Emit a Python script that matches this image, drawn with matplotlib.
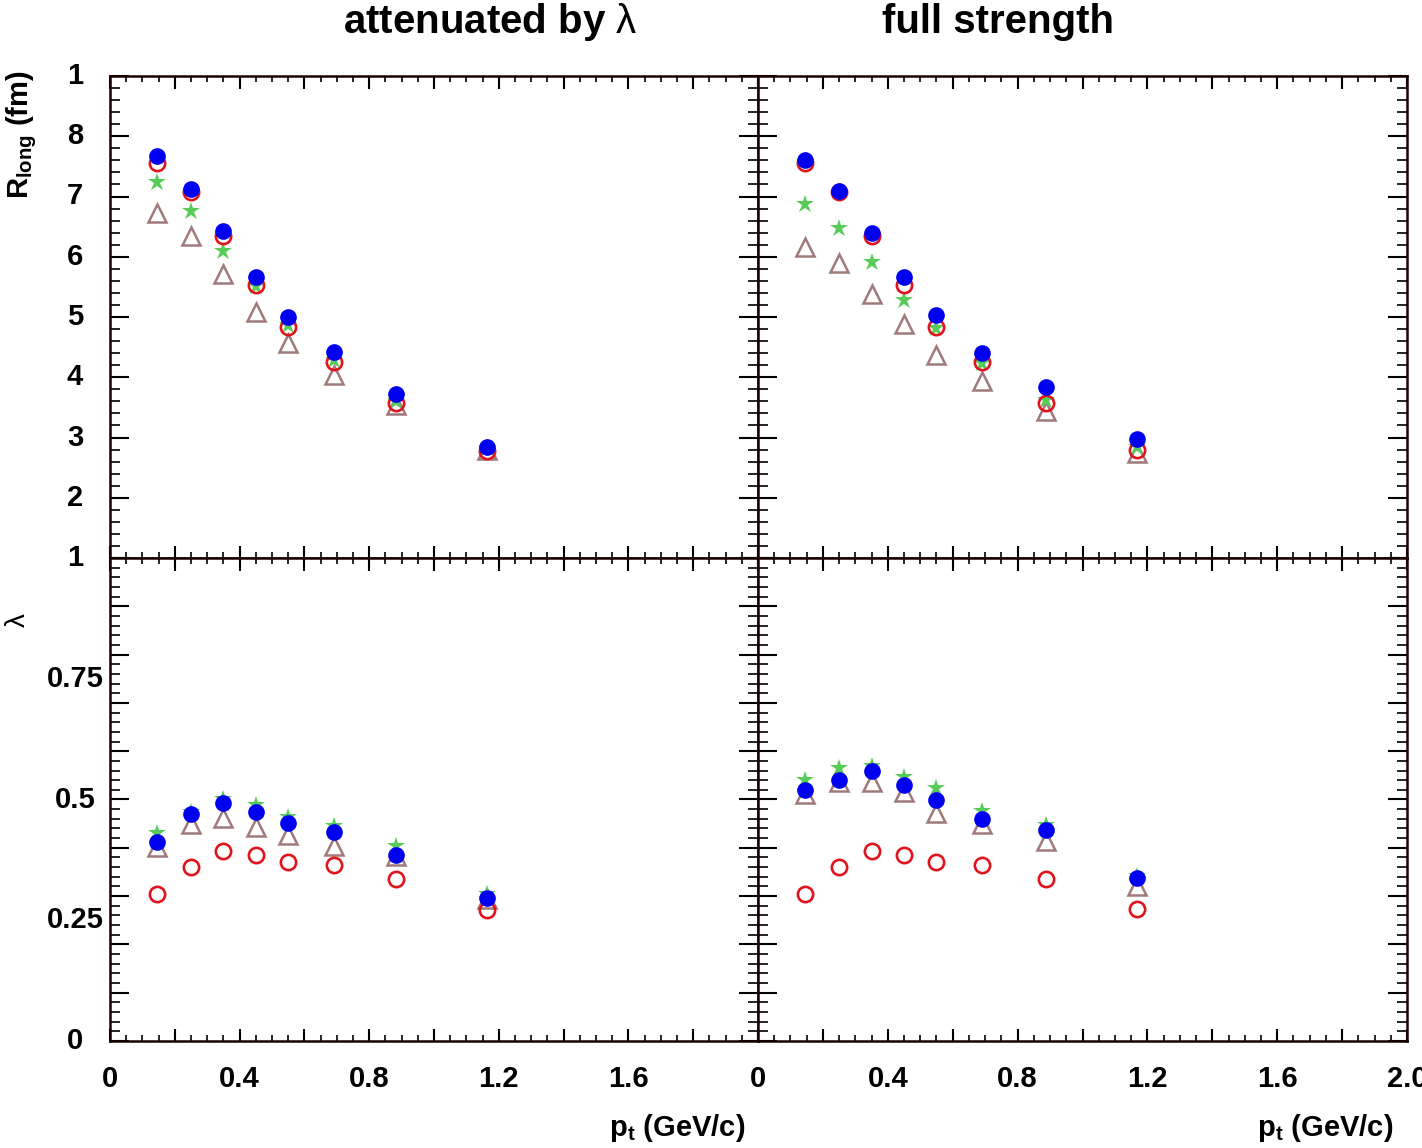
import matplotlib
matplotlib.use("Agg")
import matplotlib.pyplot as plt
from matplotlib.ticker import MultipleLocator
from matplotlib.transforms import blended_transform_factory

plt.rcParams['font.family'] = ['Liberation Sans', 'DejaVu Sans']
plt.rcParams['mathtext.fontset'] = 'custom'
plt.rcParams['mathtext.rm'] = 'Liberation Sans'
plt.rcParams['mathtext.bf'] = 'Liberation Sans:bold'
plt.rcParams['mathtext.it'] = 'Liberation Sans:italic'

# ---------------- data ----------------
pt_left = [0.145, 0.25, 0.35, 0.45, 0.55, 0.69, 0.883, 1.164]
pt_right = [0.145, 0.25, 0.35, 0.45, 0.55, 0.69, 0.886, 1.168]

# R_long (fm), attenuated by lambda
rl_att_blue = [7.68, 7.13, 6.42, 5.67, 5.00, 4.42, 3.73, 2.85]
rl_att_red = [7.56, 7.08, 6.35, 5.53, 4.83, 4.26, 3.57, 2.78]
rl_att_green = [7.24, 6.76, 6.09, 5.51, 4.87, 4.29, 3.60, 2.83]
rl_att_tri = [6.73, 6.34, 5.72, 5.09, 4.57, 4.04, 3.54, 2.80]

# R_long (fm), full strength
rl_full_blue = [7.60, 7.09, 6.39, 5.67, 5.03, 4.40, 3.83, 2.97]
rl_full_red = [7.56, 7.08, 6.34, 5.53, 4.83, 4.25, 3.58, 2.80]
rl_full_green = [6.88, 6.48, 5.91, 5.29, 4.82, 4.24, 3.63, 2.85]
rl_full_tri = [6.16, 5.90, 5.39, 4.89, 4.37, 3.93, 3.44, 2.74]

# lambda, attenuated
lam_att_blue = [0.413, 0.470, 0.492, 0.474, 0.451, 0.432, 0.386, 0.297]
lam_att_red = [0.305, 0.360, 0.394, 0.385, 0.371, 0.365, 0.335, 0.272]
lam_att_green = [0.430, 0.475, 0.501, 0.489, 0.464, 0.446, 0.403, 0.304]
lam_att_tri = [0.401, 0.449, 0.461, 0.444, 0.426, 0.404, 0.383, 0.293]

# lambda, full strength
lam_full_blue = [0.520, 0.541, 0.560, 0.530, 0.500, 0.459, 0.437, 0.338]
lam_full_red = [0.305, 0.360, 0.394, 0.385, 0.371, 0.365, 0.335, 0.274]
lam_full_green = [0.541, 0.565, 0.569, 0.546, 0.523, 0.477, 0.447, 0.342]
lam_full_tri = [0.511, 0.536, 0.536, 0.515, 0.473, 0.449, 0.414, 0.321]

titles = [r"attenuated by $\mathrm{\lambda}$", "full strength"]
x_ticklabels_left = ['0', '', '0.4', '', '0.8', '', '1.2', '', '1.6', '', '']
x_ticklabels_right = ['0', '', '0.4', '', '0.8', '', '1.2', '', '1.6', '', '2.0']
r_labels = ['2', '3', '4', '5', '6', '7', '8', '1']
r_label_vals = [2, 3, 4, 5, 6, 7, 8, 9]
lam_labels = ['0', '0.25', '0.5', '0.75', '1']
lam_label_vals = [0, 0.25, 0.5, 0.75, 1.0]

# ---------------- figure ----------------
W, H = 1422, 1148
fig = plt.figure(figsize=(W / 100, H / 100), dpi=100)

def fx(px):
    return px / W

def fy(py):
    return 1 - py / H

x0, xm, x1 = 110, 758, 1407
y0, ym, y1 = 76, 558, 1041

axes = {}
axes['tl'] = fig.add_axes([fx(x0), fy(ym), fx(xm) - fx(x0), fy(y0) - fy(ym)])
axes['tr'] = fig.add_axes([fx(xm), fy(ym), fx(x1) - fx(xm), fy(y0) - fy(ym)])
axes['bl'] = fig.add_axes([fx(x0), fy(y1), fx(xm) - fx(x0), fy(ym) - fy(y1)])
axes['br'] = fig.add_axes([fx(xm), fy(y1), fx(x1) - fx(xm), fy(ym) - fy(y1)])

c_blue = '#0000f0'
c_red = '#e0141c'
c_green = '#58cc58'
c_tri = '#a07a7a'

def draw(ax, x, tri, green, red, blue):
    ax.plot(x, tri, linestyle='none', marker='^', markersize=13, markerfacecolor='none',
            markeredgecolor=c_tri, markeredgewidth=1.8, zorder=3)
    ax.plot(x, green, linestyle='none', marker='*', markersize=13.5, color=c_green,
            markeredgewidth=0, zorder=4)
    ax.plot(x, red, linestyle='none', marker='o', markersize=11, markerfacecolor='none',
            markeredgecolor=c_red, markeredgewidth=1.9, zorder=5)
    ax.plot(x, blue, linestyle='none', marker='o', markersize=12, color=c_blue,
            markeredgewidth=0, zorder=6)

draw(axes['tl'], pt_left, rl_att_tri, rl_att_green, rl_att_red, rl_att_blue)
draw(axes['tr'], pt_right, rl_full_tri, rl_full_green, rl_full_red, rl_full_blue)
draw(axes['bl'], pt_left, lam_att_tri, lam_att_green, lam_att_red, lam_att_blue)
draw(axes['br'], pt_right, lam_full_tri, lam_full_green, lam_full_red, lam_full_blue)

for key, ax in axes.items():
    ax.set_xlim(0, 2.0)
    ax.xaxis.set_major_locator(MultipleLocator(0.2))
    ax.xaxis.set_minor_locator(MultipleLocator(0.05))
    ax.tick_params(axis='x', which='major', direction='in', length=9, width=1.5,
                   top=True, bottom=True, labelsize=21, pad=17)
    ax.tick_params(axis='x', which='minor', direction='in', length=4.5, width=1.2,
                   top=True, bottom=True)
    ax.tick_params(axis='y', which='major', direction='in', length=13.5, width=1.5,
                   left=True, right=True, labelleft=False)
    ax.tick_params(axis='y', which='minor', direction='in', length=7, width=1.2,
                   left=True, right=True)
    for s in ax.spines.values():
        s.set_linewidth(1.8)
        s.set_color('#1a0000')
    if key in ('tl', 'tr'):
        ax.set_ylim(1, 9)
        ax.yaxis.set_major_locator(MultipleLocator(1))
        ax.yaxis.set_minor_locator(MultipleLocator(0.2))
        ax.tick_params(axis='x', labelbottom=False)
    else:
        ax.set_ylim(0, 1)
        ax.yaxis.set_major_locator(MultipleLocator(0.1))
        ax.yaxis.set_minor_locator(MultipleLocator(0.02))

ticks_x = [round(0.2 * i, 1) for i in range(11)]
axes['bl'].set_xticks(ticks_x, x_ticklabels_left)
axes['br'].set_xticks(ticks_x, x_ticklabels_right)
for ax in (axes['bl'], axes['br']):
    for lab in ax.get_xticklabels():
        lab.set_fontweight('bold')

# y labels centred at x=75 px
for ax, vals, labs in ((axes['tl'], r_label_vals, r_labels), (axes['bl'], lam_label_vals, lam_labels)):
    tr = blended_transform_factory(fig.transFigure, ax.transData)
    for v, l in zip(vals, labs):
        ax.text(fx(75), v, l, transform=tr, ha='center', va='center',
                fontsize=21, fontweight='bold', clip_on=False)

# titles
fig.text(fx(490), fy(22), titles[0], ha='center', va='center', fontsize=29, fontweight='bold')
fig.text(fx(998), fy(22), titles[1], ha='center', va='center', fontsize=29, fontweight='bold')

# axis titles
fig.text(fx(22), fy(135), r'$\mathbf{R_{long}}$ (fm)', rotation=90, ha='center', va='center',
         fontsize=21, fontweight='bold')
fig.text(fx(18), fy(620), r'$\mathrm{\lambda}$', rotation=90, ha='center', va='center', fontsize=20)
fig.text(fx(745), fy(1128), r'$\mathbf{p_{t}}$ (GeV/c)', ha='right', va='center',
         fontsize=21, fontweight='bold')
fig.text(fx(1393), fy(1128), r'$\mathbf{p_{t}}$ (GeV/c)', ha='right', va='center',
         fontsize=21, fontweight='bold')

fig.savefig('out.png', dpi=100, facecolor='white')
